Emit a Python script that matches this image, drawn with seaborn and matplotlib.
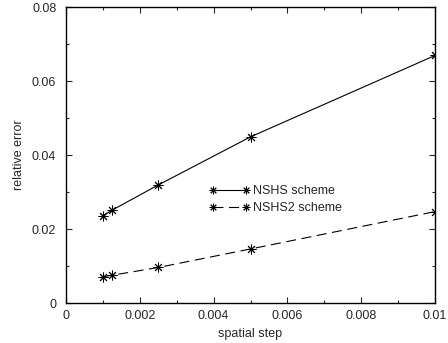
import matplotlib
matplotlib.use("Agg")
import matplotlib.pyplot as plt
import seaborn as sns
import pandas as pd
from matplotlib.ticker import MultipleLocator, FuncFormatter

# spatial step sizes and relative errors of both schemes
steps = [0.001, 0.00125, 0.0025, 0.005, 0.01]
nshs_err = [0.0236, 0.0251, 0.0319, 0.0449, 0.0669]
nshs2_err = [0.0071, 0.0075, 0.0096, 0.0146, 0.0247]
series_names = ["NSHS scheme", "NSHS2 scheme"]

df = pd.DataFrame({
    "step": steps * 2,
    "err": nshs_err + nshs2_err,
    "scheme": [series_names[0]] * len(steps) + [series_names[1]] * len(steps),
})

sns.set_style("ticks")
plt.rcParams["font.family"] = ["Liberation Sans", "DejaVu Sans"]

fig = plt.figure(figsize=(4.48, 3.43), dpi=100)
ax = fig.add_axes([66 / 448, 40 / 343, 369 / 448, 296 / 343])

sns.lineplot(
    data=df, x="step", y="err", style="scheme", ax=ax,
    color="black", linewidth=0.8,
    markers={series_names[0]: (8, 2, 0), series_names[1]: (8, 2, 0)},
    dashes={series_names[0]: "", series_names[1]: (9, 5)},
    markersize=7, markeredgewidth=0.7, markeredgecolor="black",
)


def short_fmt(v, pos):
    if abs(v) < 1e-12:
        return "0"
    return ("%.3f" % v).rstrip("0")


fs = 9
ax.set_xlim(0, 0.01)
ax.set_ylim(0, 0.08)
ax.xaxis.set_major_locator(MultipleLocator(0.002))
ax.xaxis.set_minor_locator(MultipleLocator(0.001))
ax.yaxis.set_major_locator(MultipleLocator(0.02))
ax.yaxis.set_minor_locator(MultipleLocator(0.01))
ax.xaxis.set_major_formatter(FuncFormatter(short_fmt))
ax.yaxis.set_major_formatter(FuncFormatter(short_fmt))
ax.tick_params(which="both", direction="in", top=True, right=True,
               width=0.8, labelsize=fs)
ax.tick_params(axis="x", pad=5)
ax.tick_params(axis="y", pad=7)
ax.tick_params(which="major", length=4)
ax.tick_params(which="minor", length=2.5)
for s in ax.spines.values():
    s.set_linewidth(1.0)
    s.set_color("black")

ax.set_xlabel("spatial step", fontsize=fs, labelpad=4)
ax.set_ylabel("relative error", fontsize=fs, labelpad=5)

leg = ax.legend(loc="upper left", bbox_to_anchor=(0.372, 0.42),
                frameon=False, fontsize=fs, numpoints=2, title=None,
                handlelength=3.2, handletextpad=0.3, labelspacing=0.4,
                borderpad=0)
for h in leg.get_lines():
    h.set_markersize(5.5)

fig.savefig("out.png", dpi=100)
